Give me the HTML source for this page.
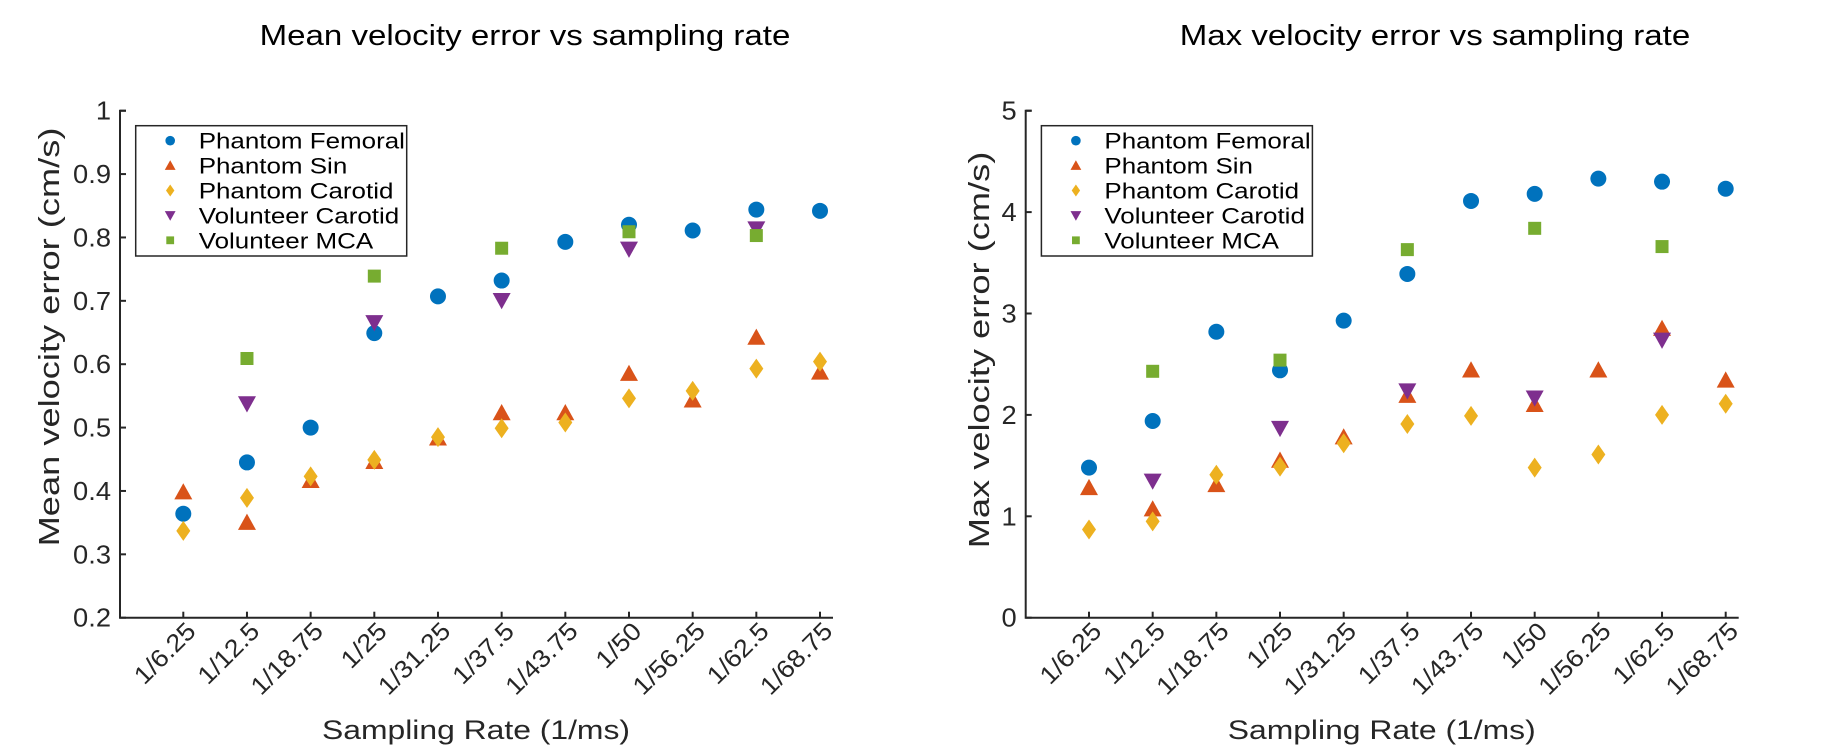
<!DOCTYPE html>
<html><head><meta charset="utf-8"><style>
html,body{margin:0;padding:0;background:#fff;}
svg{display:block;font-family:"Liberation Sans",Arial,sans-serif;}
</style></head><body>
<svg id="fig" width="1826" height="749" viewBox="0 0 1826 749" xmlns="http://www.w3.org/2000/svg"></svg>
<script>
const categories = ["1/6.25","1/12.5","1/18.75","1/25","1/31.25","1/37.5","1/43.75","1/50","1/56.25","1/62.5","1/68.75"];
const seriesNames = ["Phantom Femoral","Phantom Sin","Phantom Carotid","Volunteer Carotid","Volunteer MCA"];
const volIdx = [1,3,5,7,9];
const meanFemoral = [0.364,0.445,0.50,0.649,0.707,0.732,0.793,0.820,0.811,0.844,0.842];
const meanSin = [0.398,0.350,0.416,0.446,0.483,0.523,0.523,0.585,0.543,0.642,0.587];
const meanCarotid = [0.337,0.389,0.423,0.449,0.485,0.499,0.508,0.546,0.558,0.593,0.604];
const meanVolCarotid = [0.538,0.666,0.701,0.782,0.814];
const meanMCA = [0.609,0.739,0.783,0.809,0.803];
const maxFemoral = [1.48,1.94,2.82,2.44,2.93,3.39,4.11,4.18,4.33,4.30,4.23];
const maxSin = [1.28,1.07,1.31,1.55,1.78,2.19,2.44,2.10,2.44,2.85,2.34];
const maxCarotid = [0.87,0.95,1.41,1.49,1.72,1.91,1.99,1.48,1.61,2.00,2.11];
const maxVolCarotid = [1.35,1.87,2.24,2.17,2.74];
const maxMCA = [2.43,2.54,3.63,3.84,3.66];
const meanTicks = ["0.2","0.3","0.4","0.5","0.6","0.7","0.8","0.9","1"];
const maxTicks = ["0","1","2","3","4","5"];

const NS="http://www.w3.org/2000/svg";
const svg=document.getElementById('fig');
const colors=["#0072BD","#D95319","#EDB120","#7E2F8E","#77AC30"];
const shapes=["circle","tri","diamond","tridown","square"];
function mk(tag,attrs,parent){const e=document.createElementNS(NS,tag);for(const k in attrs)e.setAttribute(k,attrs[k]);(parent||svg).appendChild(e);return e;}
function txt(parent,str,x,y,size,anchor,rot,sx,fill){
  const t=mk('text',{x:0,y:0,'text-anchor':anchor,'font-size':size,fill:fill||'#262626',
    transform:`translate(${x},${y}) rotate(${rot}) scale(${sx},1)`},parent);
  t.textContent=str;return t;
}
function marker(g,shape,x,y,s,color){
  let e;
  if(shape==="circle"){e=mk('circle',{cx:x,cy:y,r:8*s,fill:color},g);}
  else if(shape==="tri"){const h=9*s;e=mk('polygon',{points:`${x},${y-h} ${x+h},${y+h*0.8} ${x-h},${y+h*0.8}`,fill:color},g);}
  else if(shape==="tridown"){const h=9*s;e=mk('polygon',{points:`${x},${y+h} ${x+h},${y-h*0.8} ${x-h},${y-h*0.8}`,fill:color},g);}
  else if(shape==="diamond"){e=mk('polygon',{points:`${x},${y-10*s} ${x+7*s},${y} ${x},${y+10*s} ${x-7*s},${y}`,fill:color},g);}
  else {const h=6.5*s;e=mk('rect',{x:x-h,y:y-h,width:2*h,height:2*h,fill:color},g);}
  return e;
}
function drawPlot(o){
  const g=mk('g',{});
  
  
  const x0=o.ax, yTop=110.7, yBot=617.7, xEnd=o.ax+713, t0=o.ax+63.3, dx=63.67;
  const xs=i=>t0+i*dx;
  const ys=v=>yBot-(v-o.ymin)/(o.ymax-o.ymin)*(yBot-yTop);
  const ax=mk('path',{d:`M${x0+6},${yTop} H${x0} V${yBot} H${xEnd}`,fill:'none',stroke:'#262626','stroke-width':2},g);
  
  o.yticks.forEach((lab)=>{
    const v=parseFloat(lab),y=ys(v);
    const tk=mk('line',{x1:x0,x2:x0+6,y1:y,y2:y,stroke:'#262626','stroke-width':2},g);
    
    const t=txt(g,lab,x0-9,y+9,26,'end',0,1.05);
    
  });
  categories.forEach((c,i)=>{
    const x=xs(i);
    const tk=mk('line',{x1:x,x2:x,y1:yBot,y2:yBot-6,stroke:'#262626','stroke-width':2},g);
    
    const t=txt(g,c,x+14,yBot+15,25,'end',-45,1.08);
    
  });
  const ti=txt(g,o.title,o.titleX,45,29,'middle',0,1.14,'#000');
  
  const xl=txt(g,"Sampling Rate (1/ms)",x0+356,739,27,'middle',0,1.18);
  
  const yl=txt(g,o.ylab,o.ylabX,o.ylabY,29,'middle',-90,1.25);
  
  o.data.forEach((arr,si)=>{
    const sg=mk('g',{},g);
    
    
    arr.forEach((v,j)=>{
      const i=si>=3?volIdx[j]:j;
      const m=marker(sg,shapes[si],xs(i),ys(v),1,colors[si]);
      
      
    });
  });
  const lg=mk('g',{},g);
  
  const lx=x0+15.7;
  mk('rect',{x:lx,y:125.7,width:o.legW,height:130.3,fill:'#fff',stroke:'#262626','stroke-width':1.5},lg);
  seriesNames.forEach((n,k)=>{
    const y=140.7+k*24.9;
    const e=mk('g',{},lg);
    
    marker(e,shapes[k],lx+34.5,y,0.6,colors[k]);
    txt(e,n,lx+63,y+8,22,'start',0,1.18,'#000');
  });
}
drawPlot({name:'mean-error-chart',ax:120,ymin:0.2,ymax:1,yticks:meanTicks,title:"Mean velocity error vs sampling rate",titleX:525,ylab:"Mean velocity error (cm/s)",ylabX:59,ylabY:337,legW:271,
  data:[meanFemoral,meanSin,meanCarotid,meanVolCarotid,meanMCA]});
drawPlot({name:'max-error-chart',ax:1025.7,ymin:0,ymax:5,yticks:maxTicks,title:"Max velocity error vs sampling rate",titleX:1435,ylab:"Max velocity error (cm/s)",ylabX:989,ylabY:350,legW:271,
  data:[maxFemoral,maxSin,maxCarotid,maxVolCarotid,maxMCA]});
</script>
</body></html>
